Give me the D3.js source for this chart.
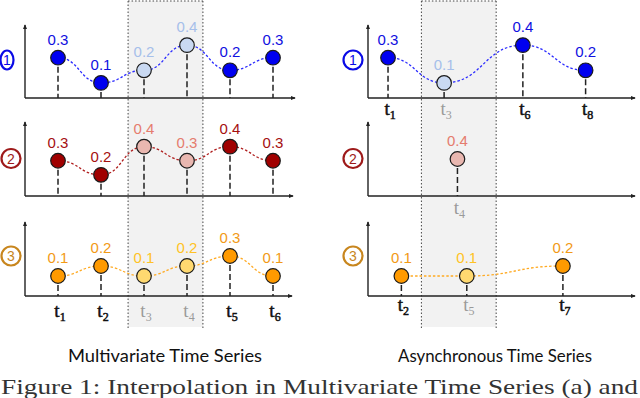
<!DOCTYPE html>
<html><head><meta charset="utf-8">
<script src="https://cdn.jsdelivr.net/npm/d3@7"></script>
<style>html,body{margin:0;padding:0;background:#fff;}svg{display:block;}</style>
</head><body>
<svg id="c" width="640" height="398"></svg>
<script>
// ---------- DATA ----------
// Multivariate (left) panel: regular time stamps t1..t6
const multiTimes = [1, 2, 3, 4, 5, 6];
const multiTickLabels = ["1", "2", "3", "4", "5", "6"];
const multiObserved = [true, true, false, false, true, true];
const multiSeries1 = [0.3, 0.1, 0.2, 0.4, 0.2, 0.3];
const multiSeries2 = [0.3, 0.2, 0.4, 0.3, 0.4, 0.3];
const multiSeries3 = [0.1, 0.2, 0.1, 0.2, 0.3, 0.1];
const multiShade = [2.63, 4.37];

// Asynchronous (right) panel: irregular time stamps t1..t8
const asyncTimeStamps = [0.75, 1.25, 2.85, 3.35, 3.7, 5.8, 7.3, 8.15];
const async1Idx = [1, 3, 6, 8];
const async1Values = [0.3, 0.1, 0.4, 0.2];
const async1Observed = [true, false, true, true];
const async2Idx = [4];
const async2Values = [0.4];
const async2Observed = [false];
const async3Idx = [2, 5, 7];
const async3Values = [0.1, 0.1, 0.2];
const async3Observed = [true, false, true];
const asyncShade = [2.0, 4.8];

const rowNames = ["1", "2", "3"];
const panelTitles = ["Multivariate Time Series", "Asynchronous Time Series"];
const captionText = "Figure 1: Interpolation in Multivariate Time Series (a) and";

// ---------- STYLE / LAYOUT ----------
const SANS = "'Liberation Sans', Arial, sans-serif";
const SERIF = "'Liberation Serif', 'Times New Roman', serif";
const rowsGeom = [{top: 25, base: 98}, {top: 122, base: 196}, {top: 222, base: 296}];
const leftDomains = [[-0.02, 0.56], [0.05, 0.575], [-0.1, 0.64]];
const rightDomains = [[-0.02, 0.56], [0, 0.8], [-0.1, 0.64]];
const pal = [
  {dark: "#0000f0", darkText: "#1010e0", light: "#c9d9f2", lightText: "#a6bfea", line: "#2a2aff", ring: "#0a0ae6"},
  {dark: "#a00000", darkText: "#a51010", light: "#e9b7b0", lightText: "#e57c6e", line: "#b02020", ring: "#9e1a1a"},
  {dark: "#ff9a00", darkText: "#f29a16", light: "#ffd970", lightText: "#ffc225", line: "#ffaa22", ring: "#c8861e"}
];

const svg = d3.select("#c");
const defs = svg.append("defs");
defs.append("marker").attr("id", "arr").attr("viewBox", "0 0 6 6")
  .attr("refX", 5).attr("refY", 3).attr("markerWidth", 5).attr("markerHeight", 5)
  .attr("orient", "auto").attr("markerUnits", "userSpaceOnUse")
  .append("path").attr("d", "M0,0.5 L6,3 L0,5.5 Z").attr("fill", "#222");

const xLeft = d3.scaleLinear().domain([1, 6]).range([58, 273]);
const xRight = d3.scaleLinear().domain([0, 10]).range([368, 635]);

const panels = [
  {x: xLeft, axisX: 25, xEnd: [295, 293, 292], shade: multiShade, ringX: [7, 11, 11], ringRx: [6.5, 9.5, 9.5]},
  {x: xRight, axisX: 368, xEnd: [635, 635, 635], shade: asyncShade, ringX: [353, 353, 353], ringRx: [9.5, 9.5, 9.5]}
];

// shaded regions
panels.forEach(p => {
  const x0 = p.x(p.shade[0]), x1 = p.x(p.shade[1]);
  svg.append("rect").attr("x", x0).attr("y", 1).attr("width", x1 - x0).attr("height", 326).attr("fill", "#f2f2f2");
  const g = svg.append("g").attr("stroke", "#444").attr("stroke-width", 1).attr("stroke-dasharray", "1.5,2").attr("fill", "none");
  g.append("line").attr("x1", x0).attr("x2", x0).attr("y1", 1).attr("y2", 328);
  g.append("line").attr("x1", x1).attr("x2", x1).attr("y1", 1).attr("y2", 328);
  g.append("line").attr("x1", x0).attr("x2", x1).attr("y1", 1).attr("y2", 1);
});

// axes and row rings
panels.forEach((p, pi) => {
  rowsGeom.forEach((r, ri) => {
    svg.append("line").attr("x1", p.axisX).attr("x2", p.axisX).attr("y1", r.base).attr("y2", r.top)
      .attr("stroke", "#222").attr("stroke-width", 1.4).attr("marker-end", "url(#arr)");
    svg.append("line").attr("x1", p.axisX).attr("x2", p.xEnd[ri]).attr("y1", r.base).attr("y2", r.base)
      .attr("stroke", "#222").attr("stroke-width", 1.4).attr("marker-end", "url(#arr)");
    const cy = ri === 2 ? 256 : (ri === 1 ? 158.5 : 60);
    svg.append("ellipse").attr("cx", p.ringX[ri]).attr("cy", cy).attr("rx", p.ringRx[ri]).attr("ry", 9.5)
      .attr("fill", "#fff").attr("stroke", pal[ri].ring).attr("stroke-width", 2.2);
    svg.append("text").attr("x", p.ringX[ri]).attr("y", cy + 5).attr("text-anchor", "middle")
      .attr("font-family", SANS).attr("font-size", 14)
      .attr("fill", pal[ri].ring).text(rowNames[ri]);
  });
});

function drawSeries(xs, vals, obs, xScale, domain, ri) {
  const r = rowsGeom[ri];
  const y = d3.scaleLinear().domain(domain).range([r.base, r.top]);
  const pts = xs.map((t, i) => ({x: xScale(t), y: y(vals[i]), v: vals[i], o: obs[i]}));
  const c = pal[ri];
  if (pts.length > 1) {
    svg.append("path").attr("d", d3.line().x(d => d.x).y(d => d.y).curve(d3.curveBumpX)(pts))
      .attr("fill", "none").attr("stroke", c.line).attr("stroke-width", 1.3).attr("stroke-dasharray", "2.5,2");
  }
  pts.forEach(d => {
    svg.append("line").attr("x1", d.x).attr("x2", d.x).attr("y1", d.y).attr("y2", r.base)
      .attr("stroke", "#222").attr("stroke-width", 1.5).attr("stroke-dasharray", "6,3");
  });
  pts.forEach(d => {
    svg.append("circle").attr("cx", d.x).attr("cy", d.y).attr("r", 7.3)
      .attr("fill", d.o ? c.dark : c.light).attr("stroke", "#1a1a1a").attr("stroke-width", 1.2);
    svg.append("text").attr("x", d.x).attr("y", d.y - 13).attr("text-anchor", "middle")
      .attr("font-family", SANS).attr("font-size", 15)
      .attr("fill", d.o ? c.darkText : c.lightText).text(d3.format(".1f")(d.v));
  });
}

function tickLabel(x, yBase, sub, gray) {
  const col = gray ? "#9a9a9a" : "#111";
  const t = svg.append("text").attr("x", x).attr("y", yBase).attr("text-anchor", "middle")
    .attr("font-family", SERIF).attr("font-size", 19)
    .attr("fill", col).attr("stroke", col).attr("stroke-width", gray ? 0 : 0.5);
  t.append("tspan").text("t");
  t.append("tspan").attr("font-size", 12).attr("dy", 4).text(sub);
}

// Left panel
[multiSeries1, multiSeries2, multiSeries3].forEach((vals, ri) => {
  drawSeries(multiTimes, vals, multiObserved, xLeft, leftDomains[ri], ri);
});
multiTimes.forEach((t, i) => tickLabel(xLeft(t) + 2, 317, multiTickLabels[i], !multiObserved[i]));

// Right panel
const asyncSets = [
  [async1Idx, async1Values, async1Observed, 115],
  [async2Idx, async2Values, async2Observed, 214],
  [async3Idx, async3Values, async3Observed, 311]
];
asyncSets.forEach(([idx, vals, obs, ty], ri) => {
  const ts = idx.map(k => asyncTimeStamps[k - 1]);
  drawSeries(ts, vals, obs, xRight, rightDomains[ri], ri);
  idx.forEach((k, i) => tickLabel(xRight(asyncTimeStamps[k - 1]) + 2, ty, String(k), !obs[i]));
});

// Panel titles
[165, 495].forEach((cx, i) => {
  svg.append("text").attr("x", cx).attr("y", 362).attr("text-anchor", "middle")
    .attr("font-family", "Lato, 'Open Sans', sans-serif").attr("font-size", 16.5)
    .attr("textLength", 194).attr("lengthAdjust", "spacingAndGlyphs")
    .attr("fill", "#111").text(panelTitles[i]);
});

// Caption (partly below the bottom edge in the reference)
svg.append("text").attr("x", 1).attr("y", 394)
  .attr("font-family", SERIF).attr("font-size", 21)
  .attr("textLength", 637).attr("lengthAdjust", "spacingAndGlyphs")
  .attr("fill", "#333").text(captionText);
</script>
</body></html>
